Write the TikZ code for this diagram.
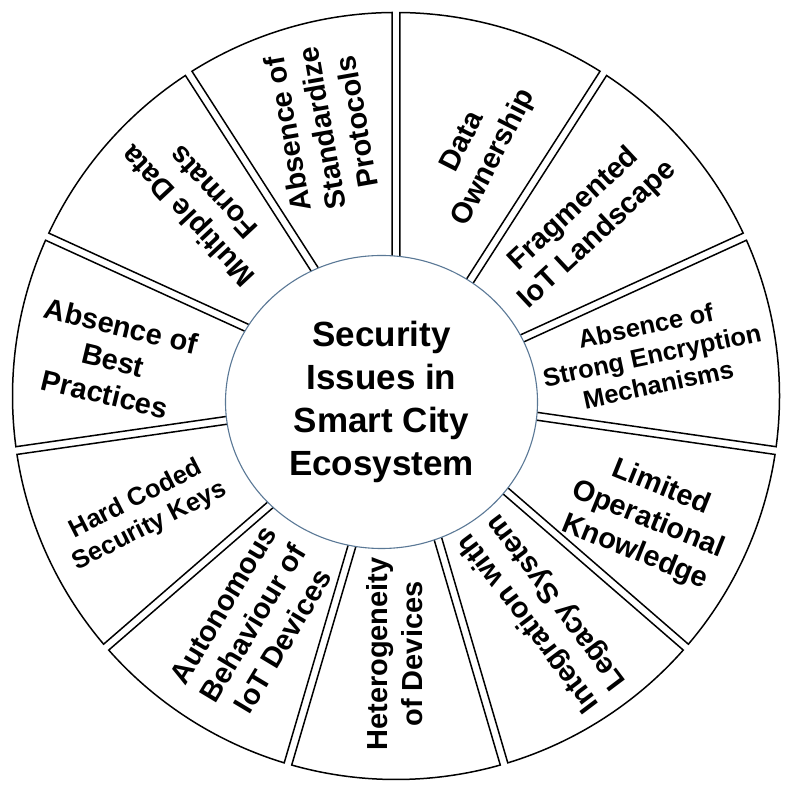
\documentclass[tikz,border=0pt]{standalone}
\usepackage{fontspec}
\setmainfont{Liberation Sans}
\usetikzlibrary{calc,shapes.geometric}
\definecolor{hubline}{HTML}{5A7896}
\tikzset{
  wedge/.style={draw=black, fill=white, line width=1.5pt, line join=miter},
  hub/.style={ellipse, draw=hubline, fill=white, line width=1.1pt, minimum width=312pt, minimum height=293pt, inner sep=0pt, align=center, font=\bfseries\fontsize{35}{43}\selectfont},
  wtext/.style={align=center, inner sep=0pt, font=\bfseries\fontsize{29}{35}\selectfont},
  wsmall/.style={align=center, inner sep=0pt, font=\bfseries\fontsize{25.5}{30}\selectfont}
}
\begin{document}
\begin{tikzpicture}
\useasboundingbox (0pt,0pt) rectangle (790pt,790pt);
\coordinate (C) at (396pt,394pt);
\foreach \k in {0,...,10}{
  \pgfmathsetmacro\a{90-(\k+1)*360/11}
  \pgfmathsetmacro\b{90-\k*360/11}
  \draw[wedge] ($(C)+(\a:60pt)+(\a+90:3.9pt)$) -- ($(C)+(\a:383.5pt)+(\a+90:3.9pt)$)
     arc[start angle=\a+0.583, end angle=\b-0.583, radius=383.5pt]
     -- ($(C)+(\b:60pt)+(\b-90:3.9pt)$) -- cycle;
}
\node[hub] (hub) at (381.5pt,388pt) {Security\\Issues in\\Smart City\\Ecosystem};
\node[wtext, rotate=100] (t1) at (322pt,662pt) {Absence of\\Standardize\\Protocols};
\node[wtext, rotate=63] (t2) at (479pt,640pt) {Data\\Ownership};
\node[wtext, rotate=43] (t3) at (586pt,568pt) {Fragmented\\IoT Landscape};
\node[wsmall, rotate=12] (t4) at (652pt,435pt) {Absence of\\Strong Encryption\\Mechanisms};
\node[wtext, rotate=-22] (t5) at (648pt,270pt) {Limited\\Operational\\Knowledge};
\node[wtext, rotate=127] (t6) at (543pt,178pt) {Integration with\\Legacy System};
\node[wtext, rotate=90] (t7) at (395pt,136pt) {Heterogeneity\\of Devices};
\node[wtext, rotate=59] (t8) at (253pt,167pt) {Autonomous\\Behaviour of\\IoT Devices};
\node[wsmall, rotate=27] (t9) at (143pt,277pt) {Hard Coded\\Security Keys};
\node[wtext, rotate=-13.5] (t10) at (113pt,430pt) {Absence of\\Best\\Practices};
\node[wtext, rotate=133] (t11) at (200pt,585pt) {Multiple Data\\Formats};
\end{tikzpicture}
\end{document}
